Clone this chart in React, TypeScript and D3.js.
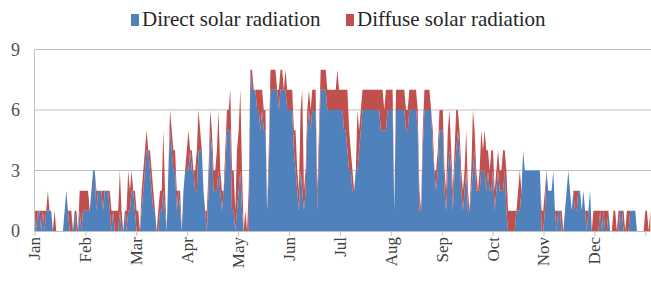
import React, { useEffect, useRef } from 'react';
import * as d3 from 'd3';

// daily values (kWh/m²), one row per month; last row runs a few days past Dec 31
const directRad: number[][] = [
  [1,0,1,1,0,1,0,1,1,1,1,0,0,0,0,0,0,0,1,2,1,0,0,0,1,0,0,1,0,1,1],
  [1,1,1,2,3,3,1,2,2,2,1,2,2,2,1,0,1,0,0,0,1,0,0,1,0,1,1,2,2,1],
  [0,0,0,1,2,3,4,4,3,2,1,1,0,0,1,1,2,1,0,3,5,4,3,3,1,2,1,0,2,3,3],
  [3,4,3,3,2,2,4,4,4,2,1,0,2,5,4,2,2,2,3,2,1,2,3,5,5,5,1,1,0,1],
  [2,3,1,0,0,0,0,8,7,7,7,6,6,5,6,5,5,1,3,7,7,7,7,7,6,7,7,7,7,6,6],
  [6,6,4,3,2,1,3,2,1,2,5,6,5,6,6,6,1,4,7,7,7,7,6,6,6,6,6,6,6,6],
  [6,6,5,5,4,3,3,2,2,3,3,4,5,6,6,6,6,6,6,6,6,6,6,6,5,5,5,5,6,6,6],
  [6,1,6,6,6,6,6,6,5,5,6,6,6,6,6,5,1,1,4,6,6,6,6,6,4,3,2,3,5,5],
  [5,2,1,3,4,3,1,3,4,5,4,2,1,2,3,1,1,2,3,4,2,2,2,3,3,3,2,3,2,2],
  [3,1,2,3,2,2,2,3,1,0,0,0,0,0,1,1,1,2,4,3,3,3,3,3,3,3,3,3,3,0,0],
  [1,3,2,2,2,3,1,0,1,1,0,0,1,2,3,2,1,2,1,1,2,2,1,2,1,0,1,2,0,0],
  [0,0,0,1,0,1,0,0,1,0,0,0,0,0,0,1,1,0,0,0,0,1,1,1,1,0,0,0,0,0,0,0,0,0],
];

const diffuseRad: number[][] = [
  [0,1,0,0,1,0,1,0,1,0,0,0,1,0,0,0,0,0,0,0,0,1,1,0,0,1,0,1,2,1,1],
  [1,1,0,0,0,0,1,0,0,0,1,0,0,0,1,1,0,1,1,1,2,1,0,0,1,2,1,1,0,1],
  [1,1,0,1,1,1,1,0,1,1,1,0,0,1,1,1,3,1,0,0,1,1,1,1,1,0,1,0,0,0,1],
  [2,0,1,0,1,2,2,1,0,0,0,1,1,1,1,1,1,2,3,1,1,0,1,1,1,2,2,2,1,3],
  [3,4,2,0,1,0,2,0,1,0,0,1,1,2,1,1,1,0,1,1,1,1,1,0,1,1,1,0,1,1,1],
  [1,1,1,2,1,1,3,5,1,1,1,1,1,1,1,1,1,1,1,1,1,1,1,1,1,1,1,1,2,1],
  [1,1,2,2,3,2,1,1,0,0,3,1,1,1,1,1,1,1,1,1,1,1,1,1,2,2,1,2,1,1,1],
  [1,0,1,1,1,1,1,1,1,1,1,1,1,1,1,1,1,0,1,1,1,1,1,0,1,0,1,1,1,1],
  [1,1,1,2,2,1,1,1,2,1,1,1,1,1,2,1,0,1,3,1,1,0,1,2,1,2,2,1,1,2],
  [1,1,1,1,1,1,2,1,2,1,1,1,1,1,0,1,2,0,0,0,0,0,0,0,0,0,0,0,0,1,1],
  [1,0,0,0,0,0,0,1,0,0,1,0,0,0,0,0,0,0,1,1,0,0,0,0,0,1,0,0,0,1],
  [1,1,1,0,1,0,1,1,0,0,0,1,1,0,1,0,0,1,0,1,1,0,0,0,0,0,0,0,0,0,1,1,0,1],
];

const months = ['Jan', 'Feb', 'Mar', 'Apr', 'May', 'Jun', 'Jul', 'Aug', 'Sep', 'Oct', 'Nov', 'Dec'];
const yTicks = [0, 3, 6, 9];

const seriesNames = ['Direct solar radiation', 'Diffuse solar radiation'];
const seriesColors = ['#4F81BD', '#C0504D'];

export default function App() {
  const svgRef = useRef<SVGSVGElement>(null);
  const width = 651;
  const height = 281;

  useEffect(() => {
    if (!svgRef.current) return;
    const svg = d3.select(svgRef.current);
    svg.selectAll('*').remove();

    const direct = directRad.flat();
    const diffuse = diffuseRad.flat();
    const rows = direct.map((d, i) => ({ day: i, direct: d, diffuse: diffuse[i] }));
    const nDays = rows.length;

    const left = 34.5;
    const pxPerDay = 50.9 / (365 / 12);

    const x = d3.scaleLinear()
      .domain([0, nDays - 1])
      .range([left, left + (nDays - 1) * pxPerDay]);

    const y = d3.scaleLinear()
      .domain([0, 9])
      .range([231, 49.5]);

    const font = '"Liberation Serif", "Times New Roman", serif';
    const textColor = '#404040';
    const gridColor = '#BFBFBF';

    // gridlines
    svg.append('g')
      .selectAll('line')
      .data(yTicks.filter(t => t > 0))
      .join('line')
      .attr('x1', left)
      .attr('x2', width)
      .attr('y1', d => y(d))
      .attr('y2', d => y(d))
      .attr('stroke', gridColor)
      .attr('stroke-width', 1);

    // stacked areas
    const stack = d3.stack<any>().keys(['direct', 'diffuse']);
    const layers = stack(rows);

    const area = d3.area<any>()
      .x(d => x(d.data.day))
      .y0(d => y(d[0]))
      .y1(d => y(d[1]));

    svg.append('g')
      .selectAll('path')
      .data(layers)
      .join('path')
      .attr('d', area as any)
      .attr('fill', (_, i) => seriesColors[i]);

    // left axis line
    svg.append('line')
      .attr('x1', left).attr('x2', left)
      .attr('y1', y(0)).attr('y2', y(9))
      .attr('stroke', gridColor);

    // y labels
    svg.append('g')
      .selectAll('text')
      .data(yTicks)
      .join('text')
      .attr('x', 20)
      .attr('y', d => y(d))
      .attr('dy', '0.35em')
      .attr('text-anchor', 'end')
      .attr('font-family', font)
      .attr('font-size', 18)
      .attr('fill', '#505050')
      .text(d => d);

    // bottom axis
    const xAxis = d3.axisBottom(x)
      .tickValues([...months.map((_, i) => (i * 365) / 12), 365])
      .tickSize(5)
      .tickFormat(() => '');

    const gx = svg.append('g')
      .attr('transform', `translate(0,${y(0)})`)
      .call(xAxis);
    gx.select('.domain').attr('stroke', gridColor).attr('d', `M${left},0.5H${width}`);
    gx.selectAll('.tick line').attr('stroke', gridColor);

    // month labels
    svg.append('g')
      .selectAll('text')
      .data(months)
      .join('text')
      .attr('transform', (_, i) => `translate(${x((i * 365) / 12)},237) rotate(-90)`)
      .attr('dy', '0.35em')
      .attr('text-anchor', 'end')
      .attr('font-family', font)
      .attr('font-size', 17)
      .attr('fill', textColor)
      .text(d => d);

    // legend
    const legendX = [131, 346];
    const legend = svg.append('g');
    seriesNames.forEach((name, i) => {
      legend.append('rect')
        .attr('x', legendX[i])
        .attr('y', 14)
        .attr('width', 8)
        .attr('height', 12)
        .attr('fill', seriesColors[i]);
      legend.append('text')
        .attr('x', legendX[i] + 11)
        .attr('y', 26)
        .attr('font-family', font)
        .attr('font-size', 21)
        .attr('fill', '#262626')
        .text(name);
    });
  }, []);

  return (
    <svg
      ref={svgRef}
      width={width}
      height={height}
      style={{ position: 'absolute', left: 0, top: 0, background: '#fff' }}
    />
  );
}
